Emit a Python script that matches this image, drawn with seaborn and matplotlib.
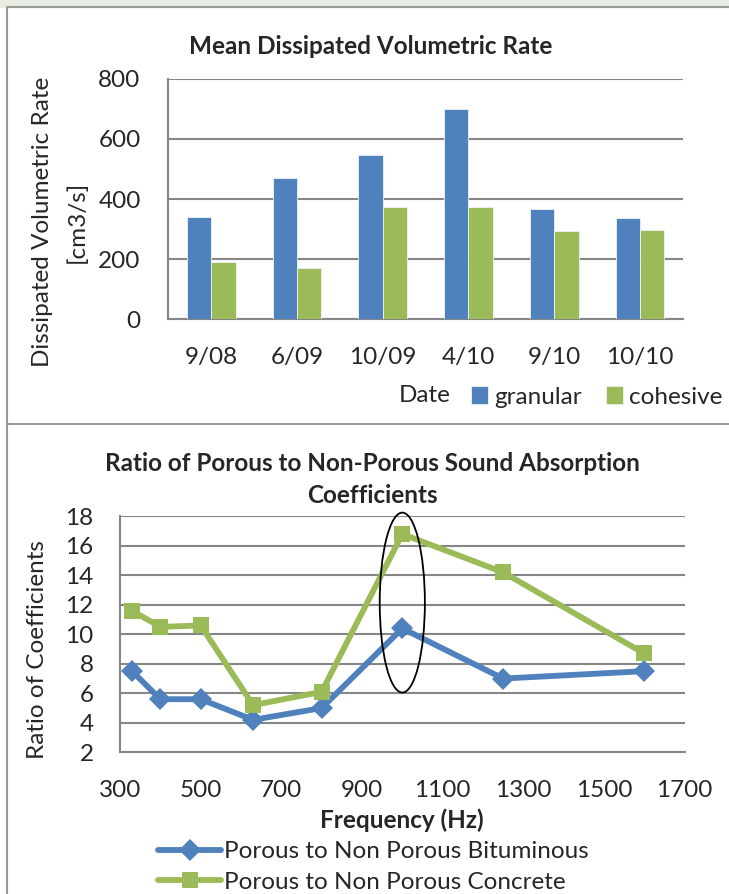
import matplotlib
matplotlib.use("Agg")
import matplotlib.pyplot as plt
import seaborn as sns
import pandas as pd
from matplotlib.patches import Ellipse, Rectangle
from matplotlib.lines import Line2D

# ---------------- data ----------------
dates = ["9/08", "6/09", "10/09", "4/10", "9/10", "10/10"]
granular = [340, 470, 545, 698, 368, 338]
cohesive = [192, 172, 373, 372, 294, 296]

freq = [330, 400, 500, 630, 800, 1000, 1250, 1600]
bituminous = [7.5, 5.6, 5.6, 4.2, 5.0, 10.4, 7.0, 7.5]
concrete = [11.6, 10.5, 10.6, 5.2, 6.1, 16.8, 14.2, 8.7]

series_bar = ["granular", "cohesive"]
series_line = ["Porous to Non Porous Bituminous", "Porous to Non Porous Concrete"]

BLUE = "#4F81BD"
GREEN = "#9BBB59"
GRID = "#868686"
FS = 17.5

sns.set_theme(style="white")
plt.rcParams["font.family"] = ["Lato", "DejaVu Sans"]

W, H = 729, 894
fig = plt.figure(figsize=(W / 100, H / 100), dpi=100)


def fx(x):
    return x / W


def fy(y):
    return 1 - y / H


# ---------------- panel frame ----------------
fig.add_artist(Rectangle((0, fy(7)), 1, 7 / H, transform=fig.transFigure,
                         color="#e8ede4", zorder=0))
fig.add_artist(Line2D([fx(7), fx(7)], [fy(7), 0], transform=fig.transFigure,
                      color="#9a9a9a", lw=1.5))
fig.add_artist(Line2D([fx(7), 1], [fy(7), fy(7)], transform=fig.transFigure,
                      color="#9a9a9a", lw=1.5))
fig.add_artist(Line2D([fx(7), 1], [fy(424), fy(424)], transform=fig.transFigure,
                      color="#9a9a9a", lw=1.5))

# ---------------- top chart ----------------
ax1 = fig.add_axes([fx(168.4), fy(319.3), (682.8 - 168.4) / W, (319.3 - 78.7) / H])
df_bar = pd.DataFrame({
    "Date": dates * 2,
    "value": granular + cohesive,
    "series": [series_bar[0]] * len(dates) + [series_bar[1]] * len(dates),
})
sns.barplot(data=df_bar, x="Date", y="value", hue="series", order=dates,
            hue_order=series_bar, palette=[BLUE, GREEN], width=0.567,
            edgecolor="#eef3f8", linewidth=0.6, saturation=1, ax=ax1, zorder=3)
ax1.set_ylim(0, 800)
ax1.set_xlim(-0.5, len(dates) - 0.5)
ax1.set_yticks(range(0, 801, 200))
ax1.set_xticks([i - 0.5 for i in range(len(dates) + 1)], minor=True)
ax1.tick_params(axis="x", which="major", length=0, pad=20, labelsize=FS)
ax1.tick_params(axis="x", which="minor", length=8, width=1.5, color=GRID, direction="out")
ax1.tick_params(axis="y", length=8, width=1.5, color=GRID, direction="out", labelsize=FS, pad=12)
ax1.yaxis.grid(True, color=GRID, lw=1.5)
ax1.set_axisbelow(True)
for s in ["top", "right"]:
    ax1.spines[s].set_visible(False)
for s in ["left", "bottom"]:
    ax1.spines[s].set_color(GRID)
    ax1.spines[s].set_linewidth(1.5)
ax1.set_xlabel("")
ax1.set_ylabel("")
handles, labels = ax1.get_legend_handles_labels()
ax1.get_legend().remove()
fig.legend(handles, labels, loc="center left", bbox_to_anchor=(fx(471), fy(397)),
           ncol=2, frameon=False, fontsize=FS, handlelength=0.7, handleheight=0.7,
           handletextpad=0.25, columnspacing=1.0, borderpad=0, borderaxespad=0)
fig.text(fx(425), fy(395), "Date", ha="center", va="center", fontsize=FS)
fig.text(fx(371), fy(46), "Mean Dissipated Volumetric Rate", ha="center", va="center",
         fontsize=FS, fontweight="bold")
fig.text(fx(43), fy(222), "Dissipated Volumetric Rate", rotation=90,
         ha="center", va="center", fontsize=FS)
fig.text(fx(77), fy(222), "[cm3/s]", rotation=90, ha="center", va="center", fontsize=FS)

# ---------------- bottom chart ----------------
ax2 = fig.add_axes([fx(120), fy(752.3), (684.6 - 120) / W, (752.3 - 516.3) / H])
df_line = pd.DataFrame({
    "freq": freq * 2,
    "ratio": bituminous + concrete,
    "series": [series_line[0]] * len(freq) + [series_line[1]] * len(freq),
})
sns.lineplot(data=df_line, x="freq", y="ratio", hue="series", style="series",
             hue_order=series_line, style_order=series_line,
             palette=[BLUE, GREEN], markers=["D", "s"], dashes=False,
             lw=4.2, markersize=11.5, markeredgewidth=0, ax=ax2, zorder=4,
             legend=True)
ax2.set_xlim(300, 1700)
ax2.set_ylim(2, 18)
ax2.set_xticks(range(300, 1701, 200))
ax2.set_yticks(range(2, 19, 2))
ax2.tick_params(axis="x", length=8, width=1.5, color=GRID, direction="out", labelsize=FS, pad=12)
ax2.tick_params(axis="y", length=7, width=1.5, color=GRID, direction="out", labelsize=FS, pad=12)
ax2.yaxis.grid(True, color=GRID, lw=1.5)
ax2.set_axisbelow(True)
for s in ["top", "right"]:
    ax2.spines[s].set_visible(False)
for s in ["left", "bottom"]:
    ax2.spines[s].set_color(GRID)
    ax2.spines[s].set_linewidth(1.5)
ax2.set_xlabel("")
ax2.set_ylabel("")
h2, l2 = ax2.get_legend_handles_labels()
ax2.get_legend().remove()
fig.legend(h2, l2, loc="center left", bbox_to_anchor=(fx(158), fy(867)),
           ncol=1, frameon=False, fontsize=FS, handlelength=2.6,
           handletextpad=0.1, labelspacing=0.4, borderpad=0, borderaxespad=0)

ax2.add_patch(Ellipse((1000, 12.15), 112, 12.2, fill=False, edgecolor="black",
                      lw=1.3, zorder=6, clip_on=False))

fig.text(fx(372), fy(463), "Ratio of Porous to Non-Porous Sound Absorption",
         ha="center", va="center", fontsize=FS, fontweight="bold")
fig.text(fx(372), fy(495), "Coefficients", ha="center", va="center",
         fontsize=FS, fontweight="bold")
fig.text(fx(402), fy(820), "Frequency (Hz)", ha="center", va="center",
         fontsize=FS, fontweight="bold")
fig.text(fx(38), fy(650), "Ratio of Coefficients", rotation=90, ha="center",
         va="center", fontsize=FS)

fig.savefig("out.png", dpi=100)
